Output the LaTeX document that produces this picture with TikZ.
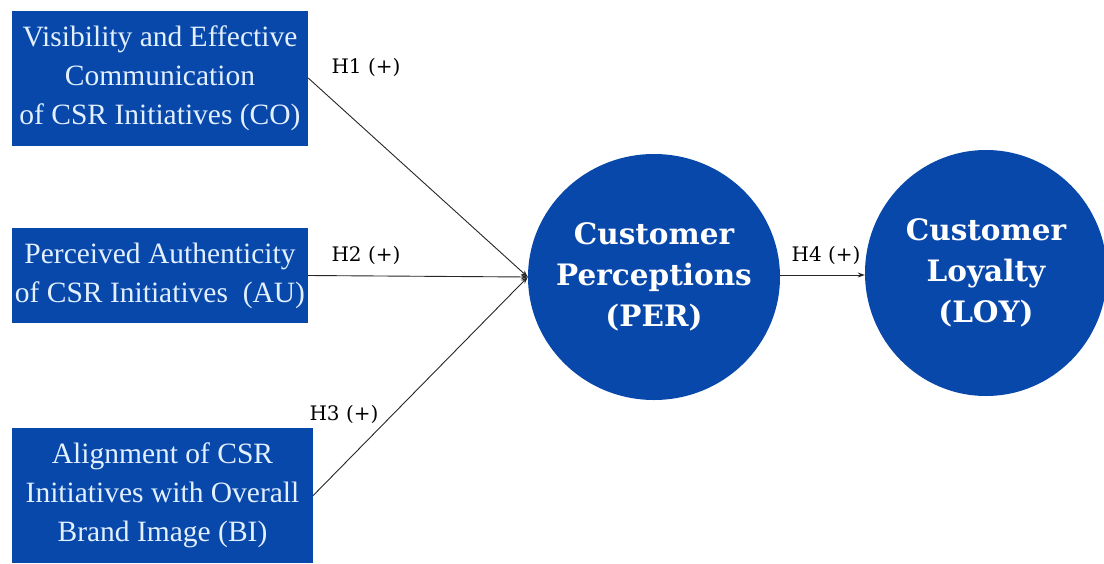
\documentclass[tikz,border=0pt]{standalone}
\usepackage{fontspec}
\setmainfont{Liberation Serif}
\newfontfamily\dvs{DejaVu Serif}
\usetikzlibrary{shapes.geometric,arrows.meta}
\definecolor{cblue}{RGB}{8,72,170}
\definecolor{ctext}{RGB}{226,240,255}
\tikzset{
  fbox/.style={rectangle, fill=cblue, draw=none, text=ctext, align=center,
    font=\fontsize{29.5}{39}\selectfont, inner sep=0pt},
  fcirc/.style={ellipse, fill=cblue, draw=none, inner sep=0pt},
  ctxt/.style={text=white, align=center, inner sep=0pt,
    font=\dvs\bfseries\fontsize{29.5}{41}\selectfont},
  hyp/.style={font=\dvs\fontsize{20}{22}\selectfont, text=black, inner sep=0pt},
  conn/.style={line width=0.9pt, black!85, -{Stealth[length=7pt,width=5pt]}}
}
\begin{document}
\begin{tikzpicture}[x=1pt,y=-1pt]
\useasboundingbox (0,0) rectangle (1104,563);
\node[fbox, minimum width=296pt, minimum height=135pt] (CO) at (160,78)
  {Visibility and Effective\\Communication\\of CSR Initiatives (CO)};
\node[fbox, minimum width=296pt, minimum height=95pt] (AU) at (160,275.5)
  {Perceived Authenticity\\of CSR Initiatives\ \ (AU)};
\node[fbox, minimum width=301pt, minimum height=135pt] (BI) at (162.5,495.5)
  {Alignment of CSR\\Initiatives with Overall\\Brand Image (BI)};
\node[fcirc, minimum width=252pt, minimum height=246pt] (PER) at (654,277) {};
\node[ctxt] (PERt) at (PER.center) {Customer\\Perceptions\\(PER)};
\node[fcirc, minimum width=242pt, minimum height=246pt] (LOY) at (986,273) {};
\node[ctxt] (LOYt) at (LOY.center) {Customer\\Loyalty\\(LOY)};
\draw[conn] (CO.east) -- (PER.west);
\draw[conn] (AU.east) -- (PER.west);
\draw[conn] (BI.east) -- (PER.west);
\draw[conn] (PER.east |- 0,275) -- (LOY.west |- 0,275);
\node[hyp] (h1) at (366,67) {H1 (+)};
\node[hyp] (h2) at (366,255) {H2 (+)};
\node[hyp] (h3) at (344,414) {H3 (+)};
\node[hyp] (h4) at (826,255) {H4 (+)};
\end{tikzpicture}
\end{document}
